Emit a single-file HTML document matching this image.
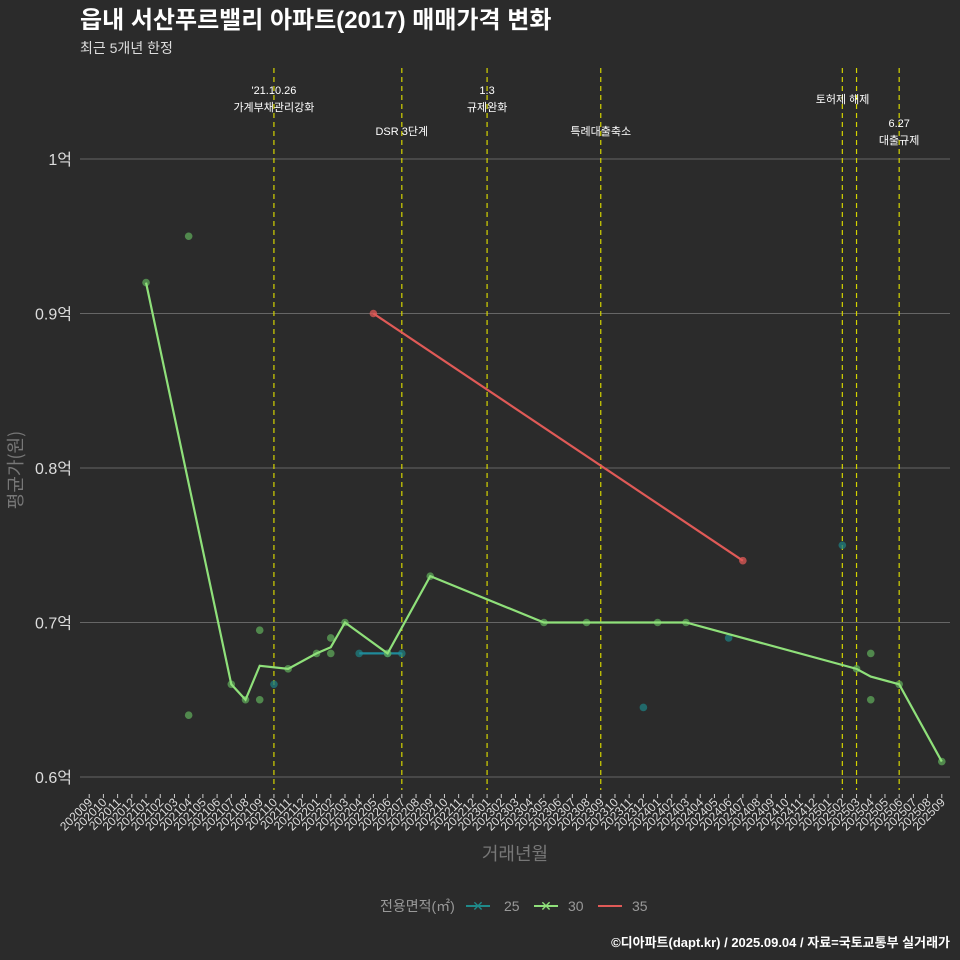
<!DOCTYPE html>
<html><head><meta charset="utf-8"><style>
body{margin:0;background:#2b2b2b;}
svg{display:block;font-family:"Liberation Sans","Noto Sans CJK KR",sans-serif;}
</style></head><body>
<svg id="chart" width="960" height="960" viewBox="0 0 960 960">
<rect width="960" height="960" fill="#2b2b2b"/>
<text x="80" y="28" font-size="24" font-weight="bold" fill="#fff">읍내 서산푸르밸리 아파트(2017) 매매가격 변화</text>
<text x="80" y="53" font-size="14" fill="#ddd">최근 5개년 한정</text>
<g id="grid"></g><g id="vlines"></g><g id="series"></g><g id="xaxis"></g>
<text transform="translate(22,470) rotate(-90)" text-anchor="middle" font-size="18" fill="#777" font-family="Noto Sans CJK KR, sans-serif">평균가(원)</text>
<text x="515" y="860" text-anchor="middle" font-size="18" fill="#777">거래년월</text>
<g>
<text x="380" y="911" font-size="14" fill="#999">전용면적(㎡)</text>
<g><line x1="466" y1="906" x2="490" y2="906" stroke="#1f8a8a" stroke-width="2"/><text x="478" y="911" text-anchor="middle" fill="#1f8a8a" font-size="14">✕</text><text x="504" y="911" font-size="14" fill="#999">25</text></g>
<g><line x1="534" y1="906" x2="558" y2="906" stroke="#8fe07a" stroke-width="2"/><text x="546" y="911" text-anchor="middle" fill="#8fe07a" font-size="14">✕</text><text x="568" y="911" font-size="14" fill="#999">30</text></g>
<g><line x1="598" y1="906" x2="622" y2="906" stroke="#e05a57" stroke-width="2"/><text x="632" y="911" font-size="14" fill="#999">35</text></g>
</g>
<text x="950" y="947" text-anchor="end" font-size="13" font-weight="bold" fill="#fff">©디아파트(dapt.kr) / 2025.09.04 / 자료=국토교통부 실거래가</text>
</svg>
<script>
const months=[];for(let y=2020,m=9;y<2025||(y===2025&&m<=9);){months.push(y+String(m).padStart(2,'0'));m++;if(m>12){m=1;y++;}}
const yTicks=[0.6,0.7,0.8,0.9,1.0];
const yTickLabels=['0.6억','0.7억','0.8억','0.9억','1억'];
const s30Months=['202101','202107','202108','202109','202111','202201','202202','202203','202206','202209','202305','202308','202401','202403','202503','202504','202506','202509'];
const s30Values=[0.92,0.66,0.65,0.672,0.67,0.68,0.684,0.70,0.68,0.73,0.70,0.70,0.70,0.70,0.67,0.665,0.66,0.61];
const s30PtMonths=['202101','202104','202104','202107','202108','202109','202109','202111','202201','202202','202202','202203','202206','202209','202305','202308','202401','202403','202503','202504','202504','202506','202509'];
const s30PtValues=[0.92,0.95,0.64,0.66,0.65,0.695,0.65,0.67,0.68,0.69,0.68,0.70,0.68,0.73,0.70,0.70,0.70,0.70,0.67,0.68,0.65,0.66,0.61];
const s25Months=['202204','202206','202207'];
const s25Values=[0.68,0.68,0.68];
const s25PtMonths=['202110','202204','202206','202207','202312','202406','202502'];
const s25PtValues=[0.66,0.68,0.68,0.68,0.645,0.69,0.75];
const s35Months=['202205','202407'];
const s35Values=[0.90,0.74];
const eventMonths=['202110','202207','202301','202309','202502','202503','202506'];
const eventLabels=[["'21.10.26","가계부채관리강화"],["DSR 3단계"],["1.3","규제완화"],["특례대출축소"],[],["토허제 해제"],["6.27","대출규제"]];
const eventLabelY=[90,131,90,131,0,99,123];
const NS='http://www.w3.org/2000/svg';
const X=m=>89.2+months.indexOf(m)*14.21;
const Y=v=>777-(v-0.6)*1545;
function mk(tag,attrs,parent){const e=document.createElementNS(NS,tag);for(const k in attrs)e.setAttribute(k,attrs[k]);parent.appendChild(e);return e;}
const grid=document.getElementById('grid');
yTicks.forEach((v,i)=>{
 const l=mk('line',{x1:80,x2:950,y1:Y(v),y2:Y(v),stroke:'#666','stroke-width':1},grid);
 
 
 const t=mk('text',{x:72,y:Y(v)+6,'text-anchor':'end','font-size':16,fill:'#ddd'},grid);
 t.textContent=yTickLabels[i];
 
 
});
const vl=document.getElementById('vlines');
eventMonths.forEach((m,i)=>{
 const l=mk('line',{x1:X(m),x2:X(m),y1:68,y2:790,stroke:'#d4d400','stroke-width':1.2,'stroke-dasharray':'5,4'},vl);
 
 
 eventLabels[i].forEach((s,j)=>{
  const t=mk('text',{x:X(m)+(m==='202503'?-14:0),y:eventLabelY[i]+4+j*17,'text-anchor':'middle','font-size':11,fill:'#fff'},vl);
  t.textContent=s;
  
  
 });
});
const sg=document.getElementById('series');
function line(ms,vs,col,name){const p=mk('polyline',{points:ms.map((m,i)=>X(m)+','+Y(vs[i])).join(' '),fill:'none',stroke:col,'stroke-width':2.2},sg);
 
 }
function pts(ms,vs,col,name){ms.forEach((m,i)=>{const c=mk('circle',{cx:X(m),cy:Y(vs[i]),r:3.8,fill:col,opacity:0.75},sg);
 
 });}
pts(s25PtMonths,s25PtValues,'#1f7f80','point-25');
line(s25Months,s25Values,'#1f8a9a','line-25');
pts(s30PtMonths,s30PtValues,'#5fa85a','point-30');
line(s30Months,s30Values,'#8fe07a','line-30');
pts(s35Months,s35Values,'#e05a57','point-35');
line(s35Months,s35Values,'#e05a57','line-35');
const xa=document.getElementById('xaxis');
months.forEach(m=>{
 const x=X(m);
 const tk=mk('line',{x1:x,x2:x,y1:794,y2:798,stroke:'#ccc'},xa);
 
 
 const t=mk('text',{x:x+4,y:803,'text-anchor':'end','font-size':12,fill:'#ddd',transform:`rotate(-45 ${x+4} 803)`},xa);
 t.textContent=m;
 
 
});
</script>
</body></html>
